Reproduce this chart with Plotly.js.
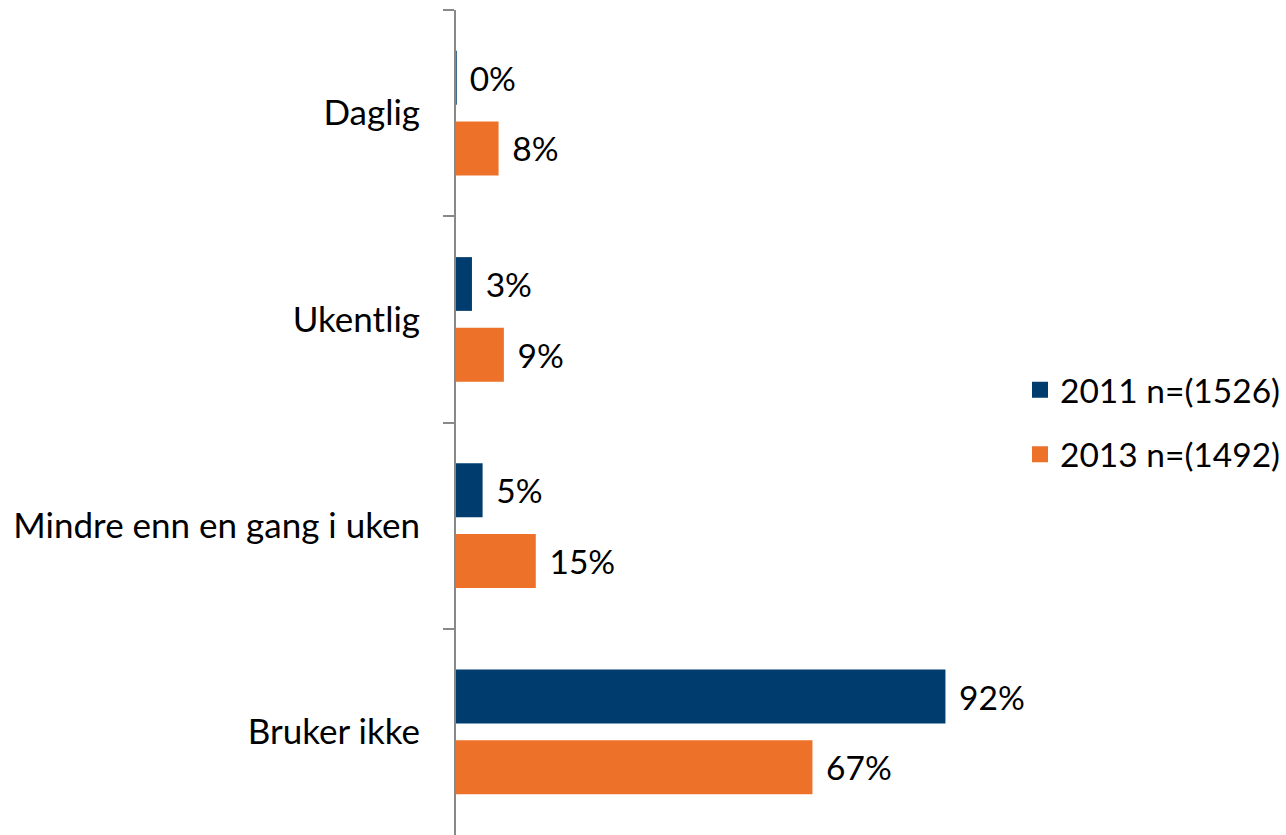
<!DOCTYPE html>
<html>
<head>
<meta charset="utf-8">
<script src="https://cdn.plot.ly/plotly-3.0.1.min.js"></script>
<style>html,body{margin:0;padding:0;background:#fff;}#chart{width:1286px;height:835px;}</style>
</head>
<body>
<div id="chart"></div>
<script>
var categories = ["Daglig", "Ukentlig", "Mindre enn en gang i uken", "Bruker ikke"];
var series2011Name = "2011 n=(1526)";
var series2013Name = "2013 n=(1492)";
var values2011 = [0, 3, 5, 92];
var values2013 = [8, 9, 15, 67];

var colBlue = "#003D6E";
var colOrange = "#ED7128";
var fontFam = "Lato, 'Open Sans', sans-serif";
var fsTick = 35;
var fs = 33.5;

function labels(vals){ return vals.map(function(v){ return "\u00a0\u200a" + v + "%"; }); }

var traces = [
  {type:"bar", orientation:"h", y:categories, x:values2011, name:series2011Name,
   marker:{color:colBlue, line:{color:colBlue, width:values2011.map(function(v){return v===0?1.5:0;})}},
   text:labels(values2011), textposition:"outside", cliponaxis:false,
   textfont:{family:fontFam, size:fs, color:"#000"}, showlegend:false, hoverinfo:"skip"},
  {type:"bar", orientation:"h", y:categories, x:values2013, name:series2013Name,
   marker:{color:colOrange},
   text:labels(values2013), textposition:"outside", cliponaxis:false,
   textfont:{family:fontFam, size:fs, color:"#000"}, showlegend:false, hoverinfo:"skip"},
  {type:"scatter", mode:"markers", x:[null], y:[null], name:series2011Name, legendgroup:"a",
   marker:{symbol:"square", size:16, color:colBlue}},
  {type:"scatter", mode:"markers", x:[null], y:[null], name:series2013Name, legendgroup:"b",
   marker:{symbol:"square", size:16, color:colOrange}}
];

var layout = {
  width:1286, height:835,
  margin:{l:456, r:297, t:10, b:0},
  paper_bgcolor:"#fff", plot_bgcolor:"#fff",
  font:{family:fontFam, size:fs, color:"#000"},
  barmode:"group", bargap:0.314, bargroupgap:0.24,
  xaxis:{range:[0,100], visible:false, fixedrange:true},
  yaxis:{autorange:"reversed", showline:true, linecolor:"#898989", linewidth:2,
         ticks:"outside", tickson:"boundaries", ticklen:11, tickcolor:"#898989", tickwidth:2,
         ticklabelstandoff:27, showgrid:false, zeroline:false,
         tickfont:{family:fontFam, size:fsTick, color:"#000"}},
  legend:{x:1.06, xanchor:"left", y:0.5, yanchor:"middle", traceorder:"grouped",
          tracegroupgap:18, font:{family:fontFam, size:fs, color:"#000"}, bgcolor:"rgba(0,0,0,0)"},
  showlegend:true
};

Plotly.newPlot("chart", traces, layout, {displayModeBar:false, staticPlot:true});
</script>
</body>
</html>
